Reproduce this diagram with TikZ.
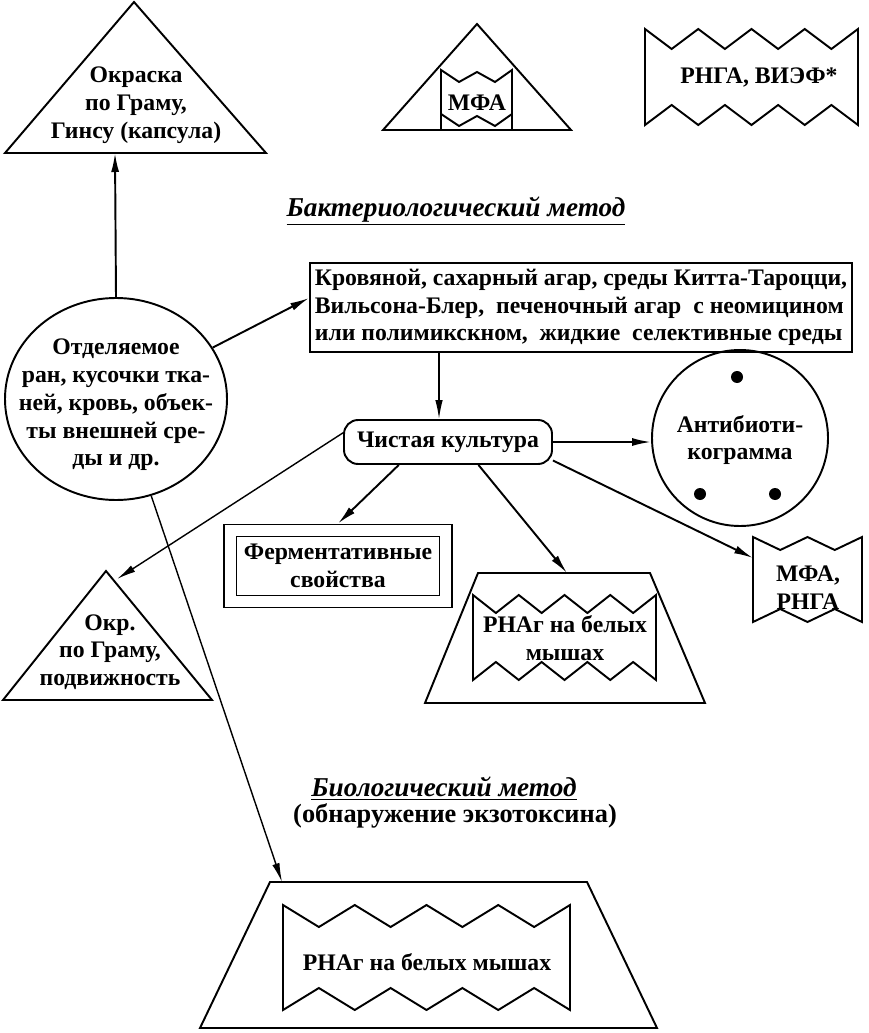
\documentclass[tikz,border=0pt]{standalone}
\usepackage{fontspec}
\setmainfont{Liberation Serif}
\usetikzlibrary{arrows.meta,shapes.geometric}

\tikzset{
  every node/.style={font=\fontsize{13.5}{15.8}\selectfont\bfseries, inner sep=0pt},
  shp/.style={line width=1.1pt},
  title/.style={font=\fontsize{15.5}{17}\selectfont\bfseries\itshape},
  link/.style={line width=1.1pt, -{Latex[length=3.8mm,width=1.6mm]}},
  slimlink/.style={line width=0.8pt, -{Latex[length=3.8mm,width=1.5mm]}},
}

\newcommand{\zigbox}[6]{%
  \pgfmathsetmacro{\zw}{(#3-#1)/(2*#5)}
  \draw[shp] (#1,#2) \foreach \k in {1,...,#5}{ -- ++(\zw,#6) -- ++(\zw,-#6)} -- (#3,#4)
    \foreach \k in {1,...,#5}{ -- ++(-\zw,-#6) -- ++(-\zw,#6)} -- cycle;}

\begin{document}
\begin{tikzpicture}[x=0.02cm,y=-0.02cm]
\useasboundingbox (0,0) rectangle (868,1033);

\draw[shp] (134,2) -- (266,153) -- (5,153) -- cycle;
\coordinate (grambase) at (115,153);
\node[align=center] (gram) at (136,105) {Окраска\\по Граму,\\Гинсу (капсула)};

\draw[shp] (477,24) -- (571,130) -- (383,130) -- cycle;
\draw[shp] (441,130) -- (441,70) -- (459,82) -- (477,72) -- (495,82) -- (512,70) -- (512,130);
\draw[shp] (441,114) -- (459,126) -- (477,116) -- (495,126) -- (512,114);
\node (mfa) at (477,103) {МФА};

\zigbox{645}{29}{858}{125}{4}{20}
\node (rnga) at (759,77) {РНГА, ВИЭФ*};

\node[title] (bacttitle) at (456,211) {\underline{Бактериологический\ метод}};

\node[draw, shp, minimum width=542*0.02cm, minimum height=89*0.02cm, align=left] (media) at (581,307.5)
  {Кровяной, сахарный агар, среды Китта-Тароцци,\\Вильсона-Блер,\ \ печеночный агар\ \ с неомицином\\или полимикскном,\ \ жидкие\ \ селективные среды};

\node[draw, shp, ellipse, minimum width=222*0.02cm, minimum height=202*0.02cm] (src) at (116,399) {};
\node[align=center] at (116,405) {Отделяемое\\ран, кусочки тка-\\ней, кровь, объек-\\ты внешней сре-\\ды и др.};

\node[draw, shp, rounded corners=8pt, minimum width=208*0.02cm, minimum height=44*0.02cm] (pure) at (448,442) {Чистая культура};

\node[draw, shp, circle, minimum size=176*0.02cm] (abg) at (740,438) {};
\node[align=center] at (740,440) {Антибиоти-\\кограмма};
\fill (737,377) circle [radius=6];
\fill (700,494) circle [radius=6];
\fill (775,494) circle [radius=6];

\node[draw, shp, minimum width=228*0.02cm, minimum height=83*0.02cm] (ferm) at (338,566) {};
\node[draw, shp, minimum width=203*0.02cm, minimum height=59*0.02cm, align=center] (fermin) at (ferm) {Ферментативные\\свойства};

\draw[shp] (478,573) -- (650,573) -- (705,703) -- (425,703) -- cycle;
\coordinate (trapmid) at (567,573);
\zigbox{473}{595}{656}{680}{4}{18}
\node[align=center] (mice) at (565,638) {РНАг на белых\\мышах};

\zigbox{753}{537}{862}{622}{2}{13}
\coordinate (mfarngaleft) at (753,558);
\node[align=center] (mfarnga) at (808,588) {МФА,\\РНГА};

\draw[shp] (106,571) -- (212,700) -- (3,700) -- cycle;
\coordinate (okrtop) at (117,579);
\node[align=center] (okr) at (110,652) {Окр.\\по Граму,\\подвижность};

\node[title] (biotitle) at (444,789) {\underline{Биологический\ метод}};
\node[font=\fontsize{15}{17}\selectfont\bfseries] (biosub) at (455,816) {(обнаружение экзотоксина)};
\draw[shp] (270,882) -- (587,882) -- (657,1028) -- (200,1028) -- cycle;
\coordinate (biotop) at (282,882);
\zigbox{283}{905}{570}{1010}{4}{22}
\node (mice2) at (427,962) {РНАг на белых мышах};

\draw[link] (src.north) -- (grambase);
\draw[link] (src.28) -- (media.178);
\draw[slimlink] ([xshift=-0.18cm]pure.north |- media.south) -- ([xshift=-0.18cm]pure.north);
\draw[link] (pure.east) -- (pure.east -| abg.west);
\draw[link] (pure.205) -- (ferm.north);
\draw[link] (pure.-37) -- (trapmid);
\draw[link] (pure.-10) -- (mfarngaleft);
\draw[slimlink] (pure.175) -- (okrtop);
\draw[slimlink] (src.-70) -- (biotop);
\end{tikzpicture}
\end{document}
